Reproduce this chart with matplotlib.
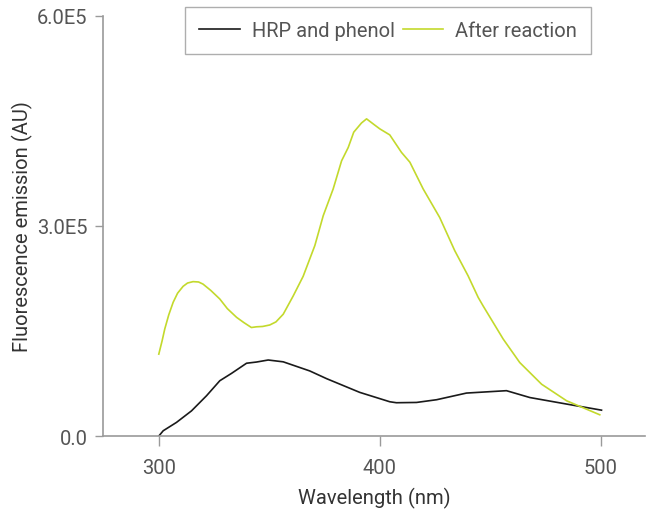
"""Fluorescence emission spectra: HRP + phenol before and after reaction."""

import matplotlib

matplotlib.use("Agg")
import matplotlib.pyplot as plt  # noqa: E402
import numpy as np  # noqa: E402

# HRP and phenol (wavelength nm, emission AU)
wl_hrp = [300, 302, 308, 314.8, 321.6, 327.6, 332.9, 339.7, 344.2, 349.5,
          356.3, 368.3, 375.9, 390.9, 404.5, 407.5, 416.6, 425.7, 439.2,
          457.3, 467.9, 484.5, 500.3]
em_hrp = [0, 7.6e3, 19.5e3, 36e3, 57.6e3, 79e3, 89.5e3, 104e3, 105.7e3,
          108.6e3, 106e3, 93e3, 82e3, 62.4e3, 49e3, 47.6e3, 48e3, 51.9e3,
          61.4e3, 64.8e3, 55e3, 45.7e3, 37e3]

# After reaction
wl_after = [300, 301.5, 302.7, 304.5, 306.5, 308.5, 311, 313, 315.5, 318,
            320, 323.5, 327.6, 331, 335.2, 338.5, 341.9, 344.2, 347, 350.2,
            353, 356.3, 360.8, 365.3, 370.6, 374.4, 378.9, 382.7, 385.7,
            388.2, 391.7, 394, 397.7, 400, 404.5, 409.8, 413.6, 419.6, 427.1,
            433.9, 439.9, 444.5, 446.7, 455.8, 463.3, 473.2, 484.5, 499.5]
em_after = [117e3, 136e3, 152.9e3, 173e3, 191e3, 204e3, 213.8e3, 218.5e3,
            220.5e3, 220e3, 217e3, 208e3, 195.7e3, 182e3, 169.5e3, 162e3,
            155e3, 156e3, 156.5e3, 158.6e3, 163e3, 174e3, 200e3, 228e3,
            272e3, 314.7e3, 352.9e3, 393e3, 412e3, 433.9e3, 447e3, 452.9e3,
            444e3, 438.6e3, 430e3, 405e3, 391e3, 352.9e3, 312e3, 264.7e3,
            229e3, 198e3, 186e3, 138.6e3, 105e3, 74e3, 50.4e3, 30.4e3]

x_ticks = [300, 400, 500]
y_ticks = [0, 3e5, 6e5]
y_tick_labels = ["0.0", "3.0E5", "6.0E5"]

GREEN = "#c3d92c"
TEXT = "#555555"
AXIS = "#9a9a9a"

plt.rcParams["font.family"] = ["Roboto", "DejaVu Sans"]

fig = plt.figure(figsize=(6.47, 5.10), dpi=100)
ax = fig.add_axes([0.159, 0.143, 0.838, 0.824])

ax.plot(wl_hrp, em_hrp, color="#1a1a1a", lw=1.2, label="HRP and phenol")
ax.plot(wl_after, em_after, color=GREEN, lw=1.2, label="After reaction")

ax.set_xlim(274.7, 520)
ax.set_ylim(0, 6e5)
ax.set_xticks(x_ticks)
ax.set_yticks(y_ticks)
ax.set_yticklabels(y_tick_labels)

for side in ("top", "right"):
    ax.spines[side].set_visible(False)
for side in ("left", "bottom"):
    ax.spines[side].set_color(AXIS)
    ax.spines[side].set_linewidth(1.2)

ax.tick_params(axis="both", colors=AXIS, labelcolor=TEXT, labelsize=14.5,
               width=1.0, direction="out")
ax.tick_params(axis="x", length=7, pad=9)
ax.tick_params(axis="y", length=6, pad=5)

ax.set_xlabel("Wavelength (nm)", fontsize=14.5, color="#333333", labelpad=7)
ax.set_ylabel("Fluorescence emission (AU)", fontsize=14.5, color="#333333",
              labelpad=3)

leg = fig.legend(loc="center", bbox_to_anchor=(0.600, 0.939), ncol=2,
                 fontsize=14.5, frameon=True, fancybox=False,
                 handlelength=2.0, handletextpad=0.6, columnspacing=0.4,
                 borderpad=0.7, borderaxespad=0)
leg.get_frame().set_edgecolor(AXIS)
leg.get_frame().set_linewidth(1.0)
for t in leg.get_texts():
    t.set_color(TEXT)

fig.savefig("out.png", dpi=100)
plt.close(fig)
